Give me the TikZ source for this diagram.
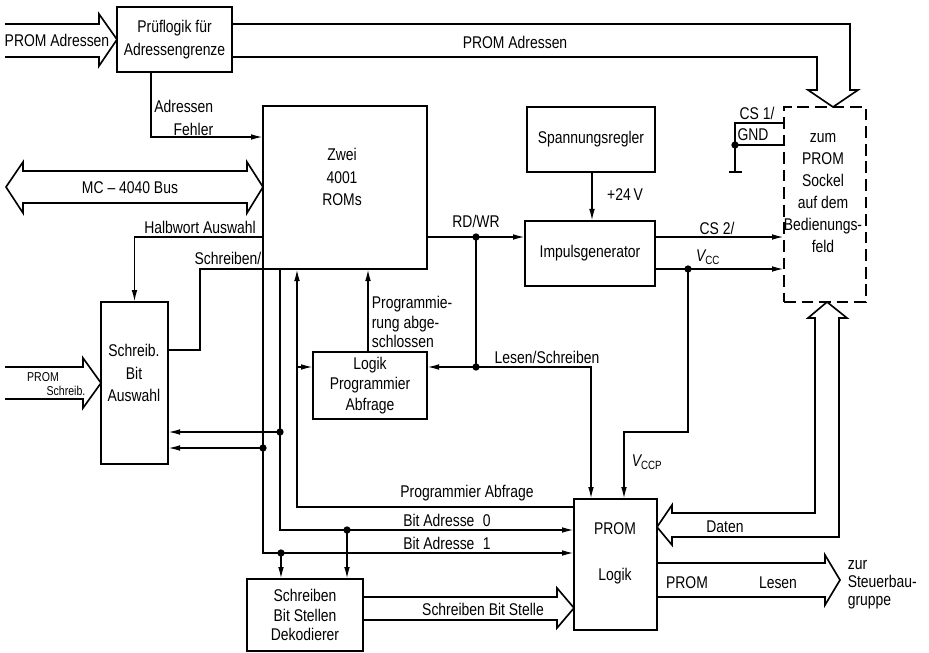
\documentclass[tikz,border=0pt]{standalone}
\usepackage{fontspec}
\setmainfont[FakeStretch=0.82]{Liberation Sans}
\usetikzlibrary{arrows.meta}
\newcommand{\pxu}{0.03cm}
\tikzset{
  block/.style={draw, inner sep=0pt, outer sep=0pt},
  sig/.style={-{Latex[length=3.6mm,width=1.7mm]}},
  bus/.style={line join=miter},
  small/.style={font=\fontsize{11}{12}\selectfont},
}
\begin{document}
\begin{tikzpicture}[x=\pxu, y=-\pxu, line width=1.4pt,
  every node/.style={font=\fontsize{14.5}{19.5}\selectfont, align=center, inner sep=0pt}]
\useasboundingbox (0,0) rectangle (929,653);

% Bloecke
\node[block, minimum width=115*\pxu, minimum height=65*\pxu] (pruef) at (174.5,39.5) {Prüflogik für\\Adressengrenze};
\node[block, minimum width=164*\pxu, minimum height=163*\pxu] (roms) at (345,187.5) {};
\node (romstxt) at (342,177) {Zwei\\4001\\ROMs};
\node[block, minimum width=67*\pxu, minimum height=162*\pxu] (schreib) at (134.5,383) {};
\node (schreibtxt) at (134,373) {Schreib.\\Bit\\Auswahl};
\node[block, minimum width=128*\pxu, minimum height=65*\pxu] (spann) at (591,139.5) {Spannungsregler};
\node[block, minimum width=130*\pxu, minimum height=65*\pxu] (impuls) at (590,253.5) {Impulsgenerator};
\node[block, dash pattern=on 10pt off 5pt, minimum width=82*\pxu, minimum height=195*\pxu] (sockel) at (825,204.5) {};
\node[font=\fontsize{14.5}{18.7}\selectfont] (sockeltxt) at (823,193) {zum\\PROM\\Sockel\\auf dem\\Bedienungs-\\feld};
\node[block, font=\fontsize{14.5}{17.5}\selectfont, minimum width=114*\pxu, minimum height=67*\pxu] (logik) at (370,385.5) {Logik\\Programmier\\Abfrage};
\node[block, minimum width=83*\pxu, minimum height=131*\pxu] (promlogik) at (615.5,564.5) {};
\node[font=\fontsize{14.5}{39}\selectfont] (promtxt) at (615,553) {PROM\\Logik};
\node[block, font=\fontsize{14.5}{17}\selectfont, minimum width=116*\pxu, minimum height=72*\pxu] (dekod) at (305,615) {Schreiben\\Bit Stellen\\Dekodierer};

% Knoten
\coordinate (rw) at (476,237);
\coordinate (ls) at (476,367);
\coordinate (vcc) at (688,269);
\coordinate (pa) at (297,367);
\coordinate (ba0) at (280,432);
\coordinate (ba1) at (263,448);
\coordinate (d0) at (347,530);
\coordinate (d1) at (281,553);
\coordinate (gnd) at (735,145);
\coordinate (erde) at (735,172);

% Busse
\draw[bus] (5,24) -- (99,24) -- (99,14) -- (pruef.west) -- (99,66) -- (99,57) -- (5,57);
\draw[bus] (pruef.east |- 0,24) -- (850,24) -- (850,90) -- (858,90) -- (sockel.north -| 833,0)
  -- (808,90) -- (817,90) -- (817,57) -- (pruef.east |- 0,57);
\draw[bus] (roms.west |- 0,187) -- (247,162) -- (247,171) -- (23,171) -- (23,162) -- (6,187)
  -- (23,213) -- (23,203) -- (247,203) -- (247,213) -- cycle;
\draw[bus] (5,367) -- (83,367) -- (83,358) -- (schreib.west |- 0,383) -- (83,408) -- (83,399) -- (5,399);
\draw[bus] (dekod.east |- 0,597) -- (557,597) -- (557,588) -- (promlogik.west |- 0,608)
  -- (557,628) -- (557,620) -- (dekod.east |- 0,620);
\draw[bus] (promlogik.east |- 0,527) -- (672,505) -- (672,513) -- (815,513) -- (815,318) -- (808,318)
  -- (sockel.south -| 827,0) -- (847,318) -- (839,318) -- (839,537) -- (672,537) -- (672,545) -- cycle;
\draw[bus] (promlogik.east |- 0,563) -- (825,563) -- (825,555) -- (840,580) -- (825,605) -- (825,597)
  -- (promlogik.east |- 0,597);

% Leitungen
\draw[sig] (151,0 |- pruef.south) |- (roms.west |- 0,137);
\draw[sig] (roms.west |- 0,237) -| (schreib.north);
\draw (schreib.east |- 0,350) -| (200,269) -- (roms.south west);
\draw[sig] (roms.south west) |- (promlogik.west |- 0,553);
\draw[sig] (280,0 |- roms.south) |- (promlogik.west |- 0,530);
\draw[sig] (promlogik.west |- 0,507) -| (297,0 |- roms.south);
\draw[sig] (pa) -- (logik.west |- pa);
\draw[sig] (ba0) -- (schreib.east |- ba0);
\draw[sig] (ba1) -- (schreib.east |- ba1);
\draw[sig] (d0) -- (dekod.north -| d0);
\draw[sig] (d1) -- (dekod.north -| d1);
\draw[sig] (logik.north -| 368,0) -- (roms.south -| 368,0);
\draw[sig] (roms.east |- rw) -- (impuls.west |- rw);
\draw (rw) -- (ls);
\draw[sig] (ls) -- (logik.east |- ls);
\draw[sig] (ls) -| (promlogik.north -| 591,0);
\draw[sig] (spann.south -| 592,0) -- (impuls.north -| 592,0);
\draw[sig] (impuls.east |- 0,237) -- (sockel.west |- 0,237);
\draw[sig] (impuls.east |- vcc) -- (sockel.west |- vcc);
\draw[sig] (vcc) |- (624,432) -- (promlogik.north -| 624,0);
\draw (sockel.west |- 0,123) -| (erde);
\draw (sockel.west |- gnd) -- (gnd);
\draw ([xshift=-6*\pxu]erde) -- ([xshift=7*\pxu]erde);
\foreach \p in {rw, ls, vcc, ba0, ba1, d0, d1, gnd}
  \fill (\p) circle (1.1mm);

% Beschriftungen
\node at (57,40) {PROM Adressen};
\node at (515,42) {PROM Adressen};
\node[anchor=east, align=right] at (214,118) {Adressen\\Fehler};
\node at (130,188) {MC -- 4040 Bus};
\node at (200,227) {Halbwort Auswahl};
\node at (228,258) {Schreiben/};
\node[small] at (43,377) {PROM};
\node[small] at (66,391) {Schreib.};
\node[anchor=west, align=left, font=\fontsize{14.5}{16.5}\selectfont] at (371,322) {Programmie-\\rung abge-\\schlossen};
\node at (476,221) {RD/WR};
\node at (547,357) {Lesen/Schreiben};
\node at (625,195) {+24\,V};
\node at (717,228) {CS 2/};
\node at (708,257) {{\itshape V}\textsubscript{CC}};
\node at (757,113) {CS 1/};
\node at (753,135) {GND};
\node at (647,462) {{\itshape V}\textsubscript{CCP}};
\node at (467,493) {Programmier Abfrage};
\node at (447,520) {Bit Adresse\enspace 0};
\node at (447,543) {Bit Adresse\enspace 1};
\node at (725,527) {Daten};
\node at (687,583) {PROM};
\node at (778,583) {Lesen};
\node[anchor=west, align=left, font=\fontsize{14.5}{15.5}\selectfont] at (847,585) {zur\\Steuerbau-\\gruppe};
\node at (483,609) {Schreiben Bit Stelle};
\end{tikzpicture}
\end{document}
